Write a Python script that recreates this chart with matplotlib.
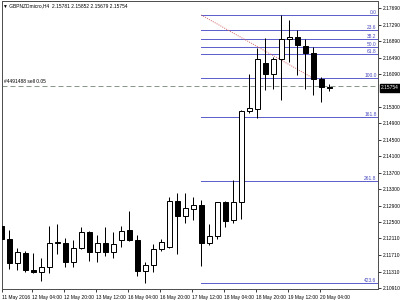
import numpy as np
import matplotlib
matplotlib.use('Agg')
import matplotlib.pyplot as plt
from matplotlib.patches import Rectangle
import matplotlib.transforms as mtransforms

#%% Data (GBPNZDmicro H4)
opens = [2.12412, 2.12090, 2.11509, 2.11766, 2.11347, 2.11291, 2.11412, 2.11993, 2.12008, 2.11548,
         2.11872, 2.12274, 2.11776, 2.11993, 2.11776, 2.12073, 2.12315, 2.12073, 2.11330, 2.11461,
         2.11848, 2.11897, 2.13017, 2.12647, 2.12817, 2.12921, 2.11993, 2.12177, 2.12986, 2.12558,
         2.12986, 2.15196, 2.15238, 2.16366, 2.16092, 2.16448, 2.16932, 2.16981, 2.16770, 2.16593,
         2.15964, 2.15781]
highs = [2.12516, 2.12315, 2.11872, 2.11807, 2.11751, 2.11630, 2.12412, 2.12461, 2.12114, 2.12073,
         2.12395, 2.12290, 2.12194, 2.12395, 2.12260, 2.12412, 2.12775, 2.12194, 2.11548, 2.11969,
         2.12093, 2.13122, 2.13204, 2.13204, 2.13122, 2.13042, 2.12453, 2.13000, 2.13017, 2.13526,
         2.15221, 2.16092, 2.16714, 2.16956, 2.16504, 2.17521, 2.17400, 2.17157, 2.16932, 2.16753,
         2.16027, 2.15852]
lows = [2.11790, 2.11364, 2.11347, 2.11306, 2.11267, 2.11081, 2.11267, 2.11734, 2.11427, 2.11427,
        2.11848, 2.11572, 2.11548, 2.11686, 2.11630, 2.11897, 2.12049, 2.11202, 2.11040, 2.11306,
        2.11807, 2.11887, 2.11742, 2.12478, 2.12558, 2.11451, 2.11952, 2.12090, 2.12381, 2.12478,
        2.12575, 2.15141, 2.15020, 2.15705, 2.15722, 2.15463, 2.16390, 2.16068, 2.15729, 2.15584,
        2.15421, 2.15679]
closes = [2.12090, 2.11509, 2.11776, 2.11347, 2.11291, 2.11412, 2.11993, 2.12032, 2.11548, 2.11872,
          2.12274, 2.11790, 2.11993, 2.11776, 2.11969, 2.12298, 2.12073, 2.11330, 2.11468, 2.11848,
          2.12013, 2.13017, 2.12654, 2.12841, 2.12913, 2.11993, 2.12177, 2.12986, 2.12541, 2.12986,
          2.15204, 2.15276, 2.16448, 2.16092, 2.16448, 2.16932, 2.16981, 2.16794, 2.16593, 2.15964,
          2.15785, 2.15754]

time_ticks = [0, 4, 8, 12, 16, 20, 24, 28, 32, 36, 40]
time_labels = ['11 May 2016', '12 May 04:00', '12 May 20:00', '13 May 12:00', '16 May 04:00',
               '16 May 20:00', '17 May 12:00', '18 May 04:00', '18 May 20:00', '19 May 12:00',
               '20 May 04:00']
price_ticks = [2.17690, 2.17290, 2.16890, 2.16490, 2.16090, 2.15300, 2.14900, 2.14500, 2.14100,
               2.13700, 2.13300, 2.12900, 2.12500, 2.12110, 2.11710, 2.11310, 2.10910]

# fibo retracement: anchors and levels
fib_start, fib_end = 25, 39
fib_high, fib_low = 2.17521, 2.15990
fib_levels = [0.0, 23.6, 38.2, 50.0, 61.8, 100.0, 161.8, 261.8, 423.6]

order_price = 2.15802
order_text = '#4491488 sell 0.05'
bid = 2.15754
title = '\u25bc GBPNZDmicro,H4  2.15781 2.15852 2.15679 2.15754'

#%% Plot
plt.rcParams['font.family'] = ['Liberation Sans', 'DejaVu Sans']
fs = 3.5
lw = 0.72

fig = plt.figure(figsize=(4, 3), dpi=100)
ax = fig.add_axes([2/400, 1 - 289/300, 376/400, 288/300])

for i in range(len(opens)):
    o, h, l, c = opens[i], highs[i], lows[i], closes[i]
    ax.plot([i, i], [l, h], color='black', lw=lw, zorder=2, solid_capstyle='butt')
    bottom = min(o, c)
    height = max(abs(c - o), 0.00001)
    face = 'white' if c >= o else 'black'
    ax.add_patch(Rectangle((i - 0.32, bottom), 0.64, height, facecolor=face,
                           edgecolor='black', lw=lw, zorder=3))

# fibo lines
fib_color = '#6060cc'
trans = mtransforms.blended_transform_factory(ax.transAxes, ax.transData)
for lev in fib_levels:
    p = fib_high - lev / 100 * (fib_high - fib_low)
    ax.plot([fib_start, 60], [p, p], color=fib_color, lw=lw, zorder=1)
    ax.text(0.996, p, f'{lev:.1f}', transform=trans,
            ha='right', va='bottom', fontsize=fs, color='#4848c0')
ax.plot([fib_start, fib_end], [fib_high, fib_low], color='#d46a6a', lw=lw, ls=(0, (1, 1.2)), zorder=1)

# order line
ax.axhline(order_price, color='#8a9a8a', lw=lw, ls=(0, (5, 3)), zorder=1)
ax.text(0.3, order_price + 0.0004, order_text, fontsize=fs, ha='left', va='bottom', color='black')

# bid label on the price scale
ax.text(1.008, bid, f'{bid:.5f}', transform=trans, fontsize=fs, color='white', ha='left', va='center',
        bbox=dict(boxstyle='square,pad=0.25', facecolor='black', edgecolor='black'), zorder=5, clip_on=False)

ax.set_xlim(0.09, 47.09)
ax.set_ylim(2.178837 - 0.0002421 * 289, 2.178837 - 0.0002421 * 1)

ax.yaxis.tick_right()
ax.set_yticks(price_ticks)
ax.set_yticklabels([f'{p:.5f}' for p in price_ticks])
ax.set_xticks([max(t - 0.2, 0.12) for t in time_ticks])
ax.set_xticklabels(time_labels, ha='left')
ax.tick_params(axis='both', labelsize=fs, length=2.5, width=lw, pad=1.2, color='#404040')
ax.tick_params(axis='x', pad=1.5)
for s in ax.spines.values():
    s.set_color('#505050')
    s.set_linewidth(lw)

fig.text(3/400, 1 - 5.5/300, title, fontsize=fs, ha='left', va='center')

fig.savefig('out.png', dpi=100)
